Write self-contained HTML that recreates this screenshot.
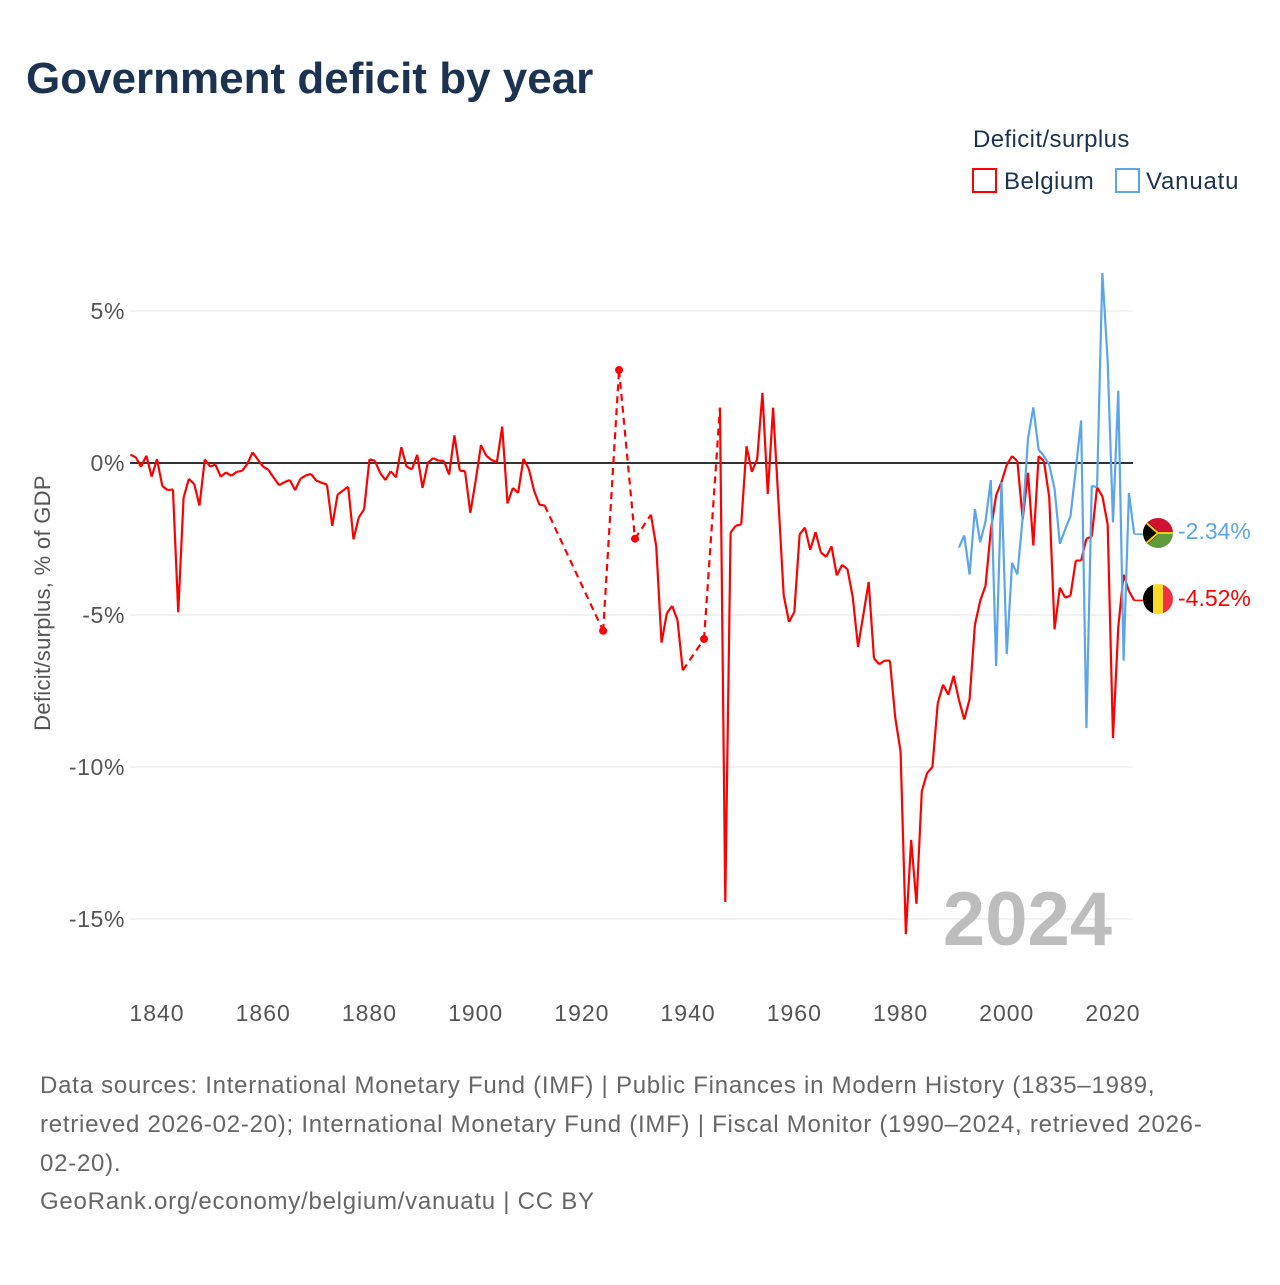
<!DOCTYPE html>
<html><head><meta charset="utf-8">
<style>
body{margin:0;width:1280px;height:1280px;background:#fff;font-family:"Liberation Sans",sans-serif;overflow:hidden}
svg text{font-family:"Liberation Sans",sans-serif}
</style></head>
<body>
<svg id="chart" width="1280" height="1280" xmlns="http://www.w3.org/2000/svg">
<text x="26" y="93" font-size="44" font-weight="bold" fill="#1b3350">Government deficit by year</text>
<text x="973" y="147" font-size="24" fill="#1b3350" letter-spacing="0.4">Deficit/surplus</text>
<g><rect x="973" y="169" width="23" height="23" fill="none" stroke="#ff0000" stroke-width="2"/><text x="1004" y="189" font-size="24" letter-spacing="0.5" fill="#1b3350">Belgium</text></g>
<g><rect x="1116" y="169" width="23" height="23" fill="none" stroke="#5ba6ea" stroke-width="2"/><text x="1146" y="189" font-size="24" letter-spacing="0.8" fill="#1b3350">Vanuatu</text></g>
<text transform="translate(50,603) rotate(-90)" text-anchor="middle" font-size="22" letter-spacing="0.3" fill="#555">Deficit/surplus, % of GDP</text>
<g id="grid"></g>
<text x="1112" y="945" text-anchor="end" font-size="76" font-weight="bold" fill="#bdbdbd">2024</text>
<g id="series"></g>
<g>
<clipPath id="cv"><circle cx="1158" cy="533" r="15"/></clipPath>
<g clip-path="url(#cv)"><rect x="1143" y="518" width="30" height="15" fill="#d21034"/><rect x="1143" y="533" width="30" height="15" fill="#5e9b3a"/><polygon points="1143,518 1160,533 1143,548" fill="#000"/><path d="M1143,520 L1158,533 L1173,533 M1158,533 L1143,546" stroke="#fdce12" stroke-width="2" fill="none"/></g></g>
<g>
<clipPath id="cb"><circle cx="1158" cy="599" r="15"/></clipPath>
<g clip-path="url(#cb)"><rect x="1143" y="584" width="10" height="30" fill="#000"/><rect x="1153" y="584" width="10" height="30" fill="#fdda24"/><rect x="1163" y="584" width="10" height="30" fill="#ef3340"/></g></g>
<text x="1178" y="539" font-size="23" fill="#5ba6ea">-2.34%</text>
<text x="1178" y="606" font-size="23" fill="#ff0000">-4.52%</text>
<g font-size="24" fill="#666" letter-spacing="0.75">
<text x="40" y="1093">Data sources: International Monetary Fund (IMF) | Public Finances in Modern History (1835–1989,</text>
<text x="40" y="1132">retrieved 2026-02-20); International Monetary Fund (IMF) | Fiscal Monitor (1990–2024, retrieved 2026-</text>
<text x="40" y="1171">02-20).</text>
<text x="40" y="1209">GeoRank.org/economy/belgium/vanuatu | CC BY</text>
</g>
</svg>
<script>
const yTicks=[5,0,-5,-10,-15];
const xTicks=[1840,1860,1880,1900,1920,1940,1960,1980,2000,2020];
const belgiumStart=1835;
const belgium=[0.27,0.19,-0.12,0.24,-0.45,0.13,-0.76,-0.89,-0.87,-4.91,-1.15,-0.52,-0.69,-1.40,0.12,-0.12,-0.05,-0.45,-0.31,-0.42,-0.29,-0.26,-0.03,0.35,0.11,-0.12,-0.23,-0.49,-0.73,-0.63,-0.56,-0.89,-0.52,-0.41,-0.36,-0.58,-0.65,-0.71,-2.07,-1.04,-0.91,-0.78,-2.51,-1.79,-1.52,0.12,0.08,-0.32,-0.56,-0.27,-0.47,0.52,-0.12,-0.21,0.27,-0.82,0.01,0.16,0.08,0.07,-0.38,0.91,-0.25,-0.27,-1.64,-0.58,0.59,0.24,0.10,0.03,1.20,-1.33,-0.82,-0.98,0.14,-0.19,-0.91,-1.37,-1.40,
null,null,null,null,null,null,null,null,null,null,-5.52,null,null,3.06,null,null,-2.49,null,null,-1.70,-2.74,-5.91,-4.94,-4.70,-5.17,-6.82,null,null,null,-5.79,null,null,1.82,
-14.44,-2.29,-2.06,-2.02,0.55,-0.29,0.12,2.31,-1.02,1.82,-1.23,-4.35,-5.23,-4.90,-2.35,-2.12,-2.86,-2.27,-2.94,-3.09,-2.74,-3.70,-3.35,-3.49,-4.41,-6.05,-4.99,-3.91,-6.43,-6.62,-6.50,-6.50,-8.37,-9.48,-15.5,-12.4,-14.5,-10.8,-10.2,-10.0,-7.91,-7.29,-7.62,-7.0,
-7.8,-8.44,-7.77,-5.33,-4.53,-4.04,-2.21,-1.06,-0.63,-0.06,0.23,0.06,-1.85,-0.32,-2.71,0.23,0.06,-1.13,-5.47,-4.10,-4.43,-4.36,-3.21,-3.21,-2.49,-2.42,-0.80,-1.09,-2.02,-9.05,-5.39,-3.67,-4.21,-4.52];
const vanuatuStart=1991;
const vanuatu=[-2.78,-2.38,-3.67,-1.52,-2.61,-1.92,-0.56,-6.68,-0.63,-6.29,-3.28,-3.67,-1.8,0.80,1.83,0.44,0.23,-0.06,-0.85,-2.66,-2.18,-1.75,-0.2,1.40,-8.72,-0.75,-0.80,6.25,3.35,-1.95,2.38,-6.50,-0.99,-2.34];

const NS='http://www.w3.org/2000/svg';
const X=y=>157+(y-1840)*5.311;
const Y=v=>463-v*30.4;
const grid=document.getElementById('grid');
const ser=document.getElementById('series');
function mk(tag,attrs,parent){const e=document.createElementNS(NS,tag);for(const k in attrs)e.setAttribute(k,attrs[k]);parent.appendChild(e);return e;}
yTicks.forEach(t=>{
  const l=mk('line',{x1:130,x2:1133,y1:Y(t),y2:Y(t),stroke:t===0?'#333':'#e4e4e4','stroke-width':t===0?2:1},grid);
  
  
  const tx=mk('text',{x:125,y:Y(t)+8,'text-anchor':'end','font-size':23,'letter-spacing':0.6,fill:'#555'},grid);
  tx.textContent=t+'%';
  
  
});
xTicks.forEach(t=>{
  const tx=mk('text',{x:X(t),y:1021,'text-anchor':'middle','font-size':23,'letter-spacing':1,fill:'#555'},grid);
  tx.textContent=t;
  
  
});
function draw(vals,start,color,name){
  const pts=vals.map((v,i)=>v===null?null:[X(start+i),Y(v)]);
  let solid='',dashed='',prev=null,prevIdx=-1;
  pts.forEach((p,i)=>{
    if(!p)return;
    if(prev){
      if(i===prevIdx+1)solid+=`M${prev[0]},${prev[1]}L${p[0]},${p[1]}`;
      else dashed+=`M${prev[0]},${prev[1]}L${p[0]},${p[1]}`;
    }
    prev=p;prevIdx=i;
  });
  const d=mk('path',{d:dashed,stroke:color,'stroke-width':2.2,fill:'none','stroke-dasharray':'7,5'},ser);
  
  
  const s=mk('path',{d:solid,stroke:color,'stroke-width':2.2,fill:'none','stroke-linejoin':'round'},ser);
  
  
  pts.forEach((p,i)=>{
    if(!p)return;
    if((i>0&&pts[i-1])||(i<pts.length-1&&pts[i+1]))return;
    const c=mk('circle',{cx:p[0],cy:p[1],r:4,fill:color},ser);
    
    
  });
  const last=pts[pts.length-1];
  const t=mk('line',{x1:last[0],y1:last[1],x2:1143,y2:last[1],stroke:color,'stroke-width':1.5},ser);
  
  
}
draw(belgium,belgiumStart,'#ff0000','belgium');
draw(vanuatu,vanuatuStart,'#5ba6ea','vanuatu');
</script>
</body></html>
